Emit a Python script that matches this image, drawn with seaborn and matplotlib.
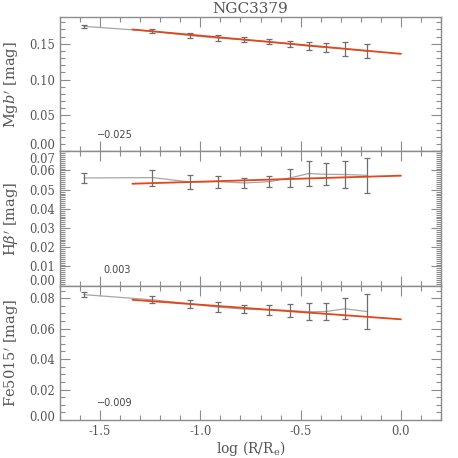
import numpy as np
import pandas as pd
import matplotlib
matplotlib.use("Agg")
import matplotlib.pyplot as plt
import matplotlib.transforms as mtrans
import seaborn as sns
from matplotlib.ticker import MultipleLocator, FormatStrFormatter

# ---- data ----
log_r = [-1.581, -1.239, -1.053, -0.912, -0.781, -0.656, -0.555, -0.460, -0.374, -0.279, -0.171]

mgb = [0.1744, 0.1675, 0.1615, 0.1580, 0.1556, 0.1528, 0.1500, 0.1467, 0.1450, 0.1430, 0.1397]
mgb_err = [0.0023, 0.0028, 0.0040, 0.0037, 0.0035, 0.0035, 0.0046, 0.0060, 0.0067, 0.0095, 0.0097]

hb = [0.0561, 0.0563, 0.0540, 0.0542, 0.0535, 0.0542, 0.0561, 0.0584, 0.0580, 0.0579, 0.0575]
hb_err = [0.0026, 0.0042, 0.0038, 0.0031, 0.0028, 0.0030, 0.0045, 0.0065, 0.0058, 0.0070, 0.0092]

fe = [0.0823, 0.0789, 0.0763, 0.0741, 0.0728, 0.0723, 0.0719, 0.0710, 0.0712, 0.0730, 0.0712]
fe_err = [0.0017, 0.0022, 0.0028, 0.0032, 0.0025, 0.0035, 0.0040, 0.0055, 0.0058, 0.0070, 0.0113]

fit_x = [-1.339, 0.0]
mgb_fit = [0.1700, 0.1360]
hb_fit = [0.0531, 0.0573]
fe_fit = [0.0789, 0.0661]

gradients = ["\u22120.025", "0.003", "\u22120.009"]
ylabels = ["Mg$b'$ [mag]", "H$\\beta'$ [mag]", "Fe5015$'$ [mag]"]
title = "NGC3379"
xlabel = "log (R/R$_{\\rm e}$)"

ylims = [(0, 0.1875), (0, 0.07), (0, 0.0882)]
yticks = [[0.0, 0.05, 0.10, 0.15],
          [0.0, 0.01, 0.02, 0.03, 0.04, 0.05, 0.06, 0.07],
          [0.0, 0.02, 0.04, 0.06, 0.08]]
yminor = [0.01, 0.001, 0.005]
text_pos = [(0.097, 0.118), (0.114, 0.119), (0.097, 0.127)]

# ---- style ----
sns.set_theme(style="ticks")
plt.rcParams["font.family"] = ["DejaVu Serif"]
plt.rcParams["mathtext.fontset"] = "dejavuserif"

spine_col = "#8c8c8c"
text_col = "#555555"
line_col = "#a6a6a6"
err_col = "#6e6e6e"
fit_col = "#e2461a"

fig, axes = plt.subplots(3, 1, figsize=(4.58, 4.58), dpi=100, sharex=True,
                         gridspec_kw=dict(hspace=0))
fig.subplots_adjust(left=0.131, right=0.963, top=0.963, bottom=0.083)

series = [(mgb, mgb_err, mgb_fit), (hb, hb_err, hb_fit), (fe, fe_err, fe_fit)]
# pixel shifts (positive = down) for the end labels of each panel: (bottom, top)
end_shift = [(-7, None), (-5.5, 6.5), (-4, None)]


def shift_label(lbl, dy_px):
    off = mtrans.ScaledTranslation(0, -dy_px / 100.0, fig.dpi_scale_trans)
    lbl.set_transform(lbl.get_transform() + off)


for i, (ax, (vals, errs, fit)) in enumerate(zip(axes, series)):
    df = pd.DataFrame({"x": log_r, "y": vals})
    sns.lineplot(data=df, x="x", y="y", ax=ax, color=line_col, lw=0.9,
                 estimator=None, sort=False, zorder=2)
    ax.errorbar(log_r, vals, yerr=errs, fmt="none", ecolor=err_col,
                elinewidth=0.9, capsize=2, capthick=0.9, zorder=3)
    dfit = pd.DataFrame({"x": fit_x, "y": fit})
    sns.lineplot(data=dfit, x="x", y="y", ax=ax, color=fit_col, lw=1.3,
                 estimator=None, sort=False, zorder=4)

    ax.set_xlim(-1.7, 0.2)
    ax.set_ylim(*ylims[i])
    ax.set_yticks(yticks[i])
    ax.yaxis.set_minor_locator(MultipleLocator(yminor[i]))
    ax.xaxis.set_major_locator(MultipleLocator(0.5))
    ax.xaxis.set_minor_locator(MultipleLocator(0.1))
    ax.tick_params(which="both", direction="in", top=True, right=True,
                   color=spine_col, labelcolor=text_col, labelsize=8.3, width=0.8)
    ax.tick_params(which="major", length=7)
    ax.tick_params(which="minor", length=3.5)
    for s in ax.spines.values():
        s.set_color(spine_col)
        s.set_linewidth(1.0)
    ax.set_ylabel(ylabels[i], fontsize=10.5, color=text_col, labelpad=6)
    ax.set_xlabel("")
    ax.yaxis.set_major_formatter(FormatStrFormatter("%.2f"))
    ax.text(text_pos[i][0], text_pos[i][1], gradients[i], transform=ax.transAxes,
            ha="left", va="center", fontsize=7, color="#444444",
            family="DejaVu Sans")
    ticks = ax.yaxis.get_major_ticks()
    sb, st = end_shift[i]
    if sb is not None:
        shift_label(ticks[0].label1, sb)
    if st is not None:
        shift_label(ticks[-1].label1, st)

axes[-1].xaxis.set_major_formatter(FormatStrFormatter("%.1f"))
axes[-1].set_xlabel(xlabel, fontsize=10, color=text_col, labelpad=1)
axes[0].set_title(title, fontsize=11, color=text_col, pad=3)

fig.savefig("out.png", dpi=100)
